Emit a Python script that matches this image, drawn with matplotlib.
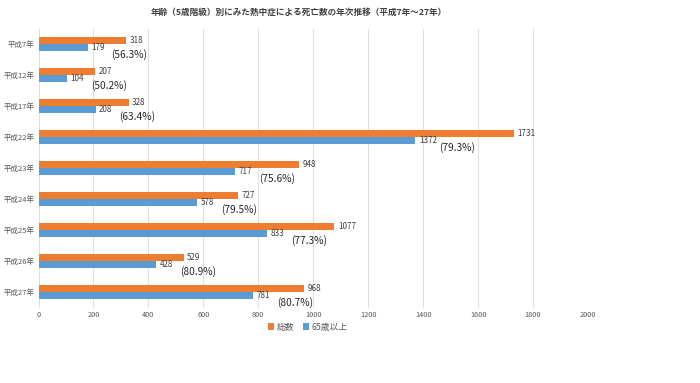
import matplotlib
matplotlib.use("Agg")
import matplotlib.pyplot as plt
import numpy as np

plt.rcParams['font.family'] = ['Noto Sans CJK JP', 'DejaVu Sans']

categories = ['平成7年', '平成12年', '平成17年', '平成22年', '平成23年',
              '平成24年', '平成25年', '平成26年', '平成27年']
total = [318, 207, 328, 1731, 948, 727, 1077, 529, 968]
over65 = [179, 104, 208, 1372, 717, 578, 833, 428, 781]
pct_labels = ['(56.3%)', '(50.2%)', '(63.4%)', '(79.3%)', '(75.6%)',
              '(79.5%)', '(77.3%)', '(80.9%)', '(80.7%)']
xticks = [0, 200, 400, 600, 800, 1000, 1200, 1400, 1600, 1800, 2000]
title = '年齢（5歳階級）別にみた熱中症による死亡数の年次推移（平成7年～27年）'
series_names = ['総数', '65歳以上']

orange = '#ED7D31'
blue = '#5B9BD5'

fig = plt.figure(figsize=(7.0, 3.83), dpi=100)
ax = fig.add_axes([38.5/700, 1-307.5/383, (588-38.5)/700, (307.5-28.5)/383])

y = np.arange(len(categories))
h = 0.21
ax.barh(y - h/2, total, height=h, color=orange, label=series_names[0], zorder=3)
ax.barh(y + h/2, over65, height=h, color=blue, label=series_names[1], zorder=3)

for i in range(len(categories)):
    ax.annotate(str(total[i]), (total[i], y[i] - h/2), xytext=(2.5, 0),
                textcoords='offset points', va='center', ha='left',
                fontsize=5.8, color='#404040')
    ax.annotate(str(over65[i]), (over65[i], y[i] + h/2), xytext=(2.5, 0),
                textcoords='offset points', va='center', ha='left',
                fontsize=5.8, color='#404040')
    ax.annotate(pct_labels[i], (over65[i], y[i] + h/2), xytext=(17, -5.5),
                textcoords='offset points', va='center', ha='left',
                fontsize=7.3, color='#262626')

ax.set_xlim(0, 2000)
ax.set_ylim(len(categories) - 0.5, -0.5)
ax.set_xticks(xticks)
ax.set_xticklabels([str(t) for t in xticks], fontsize=5.3, color='#595959')
ax.set_yticks(y)
ax.set_yticklabels(categories, fontsize=5.4, color='#595959')
ax.tick_params(axis='y', length=0, pad=3)
ax.tick_params(axis='x', length=0, pad=2.5)
ax.grid(axis='x', color='#E0E0E0', linewidth=0.8, zorder=0)
for s in ax.spines.values():
    s.set_visible(False)

fig.text(299/700, 1-12/383, title, ha='center', va='center', fontsize=6.2,
         color='#404040', fontweight='bold')

ax.legend(loc='center', bbox_to_anchor=(0.49, -0.07), ncol=2, frameon=False,
          fontsize=6.3, handlelength=0.7, handleheight=0.7, columnspacing=1.0,
          handletextpad=0.3, labelcolor='#595959')

fig.savefig('out.png', dpi=100)
